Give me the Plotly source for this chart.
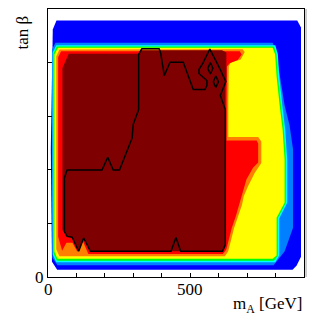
import plotly.graph_objects as go

# ---------------- data (m_A in GeV, tan beta) ----------------
BLUE_MA   = [29.8, 876.2, 889.5, 889.5, 873.7, 859.7, 32.2, 14.0, 9.8, 16.8]
BLUE_TANB = [4.785, 4.785, 4.655, 0.379, 0.211, 0.136, 0.136, 0.286, 2.377, 4.617]

LBLUE_MA   = [26.3, 789.7, 800.2, 814.2, 831.7, 849.2, 861.5, 861.5, 831.7, 808.3, 793.2, 33.3, 15.8, 14.0, 14.0]
LBLUE_TANB = [4.369, 4.369, 4.244, 3.763, 3.203, 2.83, 2.377, 0.92, 0.478, 0.323, 0.22, 0.22, 0.36, 1.5, 4.244]

CYAN_MA   = [29.0, 799.0, 808.0, 813.0, 823.7, 834.0, 841.0, 841.0, 813.0, 813.0, 799.0, 29.0, 16.5, 16.5]
CYAN_TANB = [4.324, 4.324, 4.16, 3.74, 3.215, 2.75, 2.19, 1.387, 1.09, 0.40, 0.273, 0.273, 0.42, 4.19]

GREEN_MA   = [31.0, 794.0, 803.0, 808.0, 818.7, 829.0, 836.0, 836.0, 808.0, 808.0, 794.0, 31.0, 19.0, 19.0]
GREEN_TANB = [4.30, 4.30, 4.15, 3.74, 3.215, 2.75, 2.19, 1.387, 1.10, 0.40, 0.304, 0.304, 0.45, 4.17]

YELLOW_MA   = [35.0, 789.7, 798.5, 803.7, 814.2, 824.7, 831.7, 831.7, 803.7, 803.7, 789.7, 33.3, 22.8, 22.8]
YELLOW_TANB = [4.276, 4.276, 4.15, 3.74, 3.215, 2.75, 2.19, 1.387, 1.107, 0.40, 0.342, 0.342, 0.472, 4.15]

ORANGE_MA   = [40.0, 684.0, 691.6, 677.6, 642.6, 635.6, 633.9, 633.9, 738.9, 750.0, 750.0, 726.7,
               703.2, 688.0, 682.2, 668.2, 654.2, 642.6, 633.2, 621.6, 40.0, 29.0, 29.0]
ORANGE_TANB = [4.244, 4.25, 4.2, 4.057, 4.0, 3.926, 3.31, 2.61, 2.61, 2.53, 2.128, 1.942,
               1.692, 1.5, 1.35, 1.131, 0.915, 0.665, 0.478, 0.385, 0.385, 0.52, 4.12]

RED_MA   = [46.0, 674.0, 681.0, 667.0, 639.0, 629.0, 628.0, 628.0, 733.7, 738.9, 738.9, 720.7,
            697.6, 681.0, 674.0, 660.0, 646.0, 635.6, 626.8, 614.6, 141.8, 122.6, 103.3, 85.8,
            64.8, 49.7, 36.8, 35.7, 35.7]
RED_TANB = [4.212, 4.212, 4.15, 4.048, 3.99, 3.926, 3.31, 2.545, 2.545, 2.49, 2.134, 2.04,
            1.817, 1.5, 1.35, 1.131, 0.915, 0.665, 0.51, 0.429, 0.429, 0.665, 0.472, 0.640,
            0.640, 0.491, 0.696, 0.75, 4.10]

DRED_MA   = [50.8, 72.8, 318.0, 328.0, 612.0, 627.0, 627.0, 623.4, 623.4, 613.6, 148.8, 125.4,
             107.9, 84.7, 64.8, 55.3, 50.8]
DRED_TANB = [3.90, 4.164, 4.164, 4.23, 4.23, 4.19, 3.65, 3.55, 0.56, 0.482, 0.482, 0.728,
             0.51, 0.747, 0.758, 0.851, 0.88]

LIMIT_MA = [57.8, 57.8, 67.2, 189.8, 210.1, 229.4, 251.4, 295.9, 299.4, 318.7, 318.7, 329.9,
            390.5, 395.7, 409.0, 429.0, 475.6, 510.6, 551.6, 558.6, 558.6, 530.6, 530.6, 544.6,
            569.1, 586.6, 604.1, 625.1, 605.8, 623.4, 623.4, 613.6, 466.5, 450.0, 432.5, 148.8,
            125.4, 107.9, 84.7, 67.2, 57.8]
LIMIT_TANB = [0.851, 1.854, 1.994, 1.994, 2.233, 1.994, 1.994, 2.595, 2.844, 3.124, 4.151, 4.257,
              4.257, 4.188, 3.758, 4.007, 4.007, 3.497, 3.497, 3.572, 3.665, 3.796, 3.870, 3.992,
              4.253, 4.076, 3.889, 3.646, 3.385, 3.124, 0.603, 0.482, 0.482, 0.739, 0.482, 0.482,
              0.728, 0.482, 0.743, 0.758, 0.851]

ISLAND1_MA = [561.7, 570.8, 579.9, 570.8, 561.7]
ISLAND1_TANB = [3.893, 3.999, 3.893, 3.787, 3.893]
ISLAND2_MA = [581.0, 590.1, 599.2, 590.1, 581.0]
ISLAND2_TANB = [3.643, 3.749, 3.643, 3.537, 3.643]

X_LABEL_VALUES = [0, 500]
X_LABEL_TEXT = ["0", "500"]
Y_TICKS = [0, 5]
Y_TICK_TEXT = ["0", "5"]

# ---------------- figure ----------------
fig = go.Figure()

regions = [
    (BLUE_MA, BLUE_TANB, "#0000ff"),
    (LBLUE_MA, LBLUE_TANB, "#0080ff"),
    (CYAN_MA, CYAN_TANB, "#00ffff"),
    (GREEN_MA, GREEN_TANB, "#00ff00"),
    (YELLOW_MA, YELLOW_TANB, "#ffff00"),
    (ORANGE_MA, ORANGE_TANB, "#ff8000"),
    (RED_MA, RED_TANB, "#ff0000"),
    (DRED_MA, DRED_TANB, "#7f0000"),
]
for xs, ys, col in regions:
    fig.add_trace(go.Scatter(x=xs, y=ys, mode="lines", fill="toself",
                             fillcolor=col, line=dict(width=0, color=col),
                             hoverinfo="skip", showlegend=False))

for xs, ys in [(LIMIT_MA, LIMIT_TANB), (ISLAND1_MA, ISLAND1_TANB), (ISLAND2_MA, ISLAND2_TANB)]:
    fig.add_trace(go.Scatter(x=xs, y=ys, mode="lines",
                             line=dict(color="black", width=1.5),
                             hoverinfo="skip", showlegend=False))

font = dict(family="Liberation Serif, Times New Roman, serif", size=17, color="black")

axis_common = dict(ticks="inside", ticklen=4, tickcolor="black", tickwidth=1,
                   showline=True, linecolor="black", linewidth=1, mirror=True,
                   showgrid=False, zeroline=False, tickfont=font, automargin=False)

x_label_annotations = [
    dict(text=t, x=v, xref="x", yref="paper", y=-0.045, xanchor="center",
         yanchor="middle", showarrow=False, font=font)
    for v, t in zip(X_LABEL_VALUES, X_LABEL_TEXT)
]

fig.update_layout(
    width=315, height=316,
    margin=dict(l=48, r=11, t=9, b=39),
    paper_bgcolor="white", plot_bgcolor="white",
    font=font,
    xaxis=dict(range=[0, 900], tickvals=X_LABEL_VALUES, showticklabels=False,
               minor=dict(dtick=100, tick0=0, ticks="inside", ticklen=4,
                          tickcolor="black", showgrid=False),
               **axis_common),
    yaxis=dict(range=[0, 5], tickvals=Y_TICKS, ticktext=Y_TICK_TEXT,
               minor=dict(dtick=1, tick0=0, ticks="inside", ticklen=4,
                          tickcolor="black", showgrid=False),
               **axis_common),
    shapes=[
        dict(type="line", xref="paper", yref="paper", x0=1.008, x1=1.008, y0=0, y1=1.0,
             line=dict(color="#a0a0a0", width=1)),
    ],
    annotations=x_label_annotations + [
        dict(text="m<sub>A</sub> [GeV]", xref="paper", yref="paper",
             x=1.004, y=-0.055, xanchor="right", yanchor="top",
             showarrow=False, font=font),
        dict(text="tan β", xref="paper", yref="paper",
             x=-0.10, y=0.985, xanchor="center", yanchor="top",
             textangle=-90, showarrow=False, font=font),
    ],
)

fig.write_html("out.html", config={"displayModeBar": False},
               post_script="document.body.style.margin='0';document.body.style.overflow='hidden';")
